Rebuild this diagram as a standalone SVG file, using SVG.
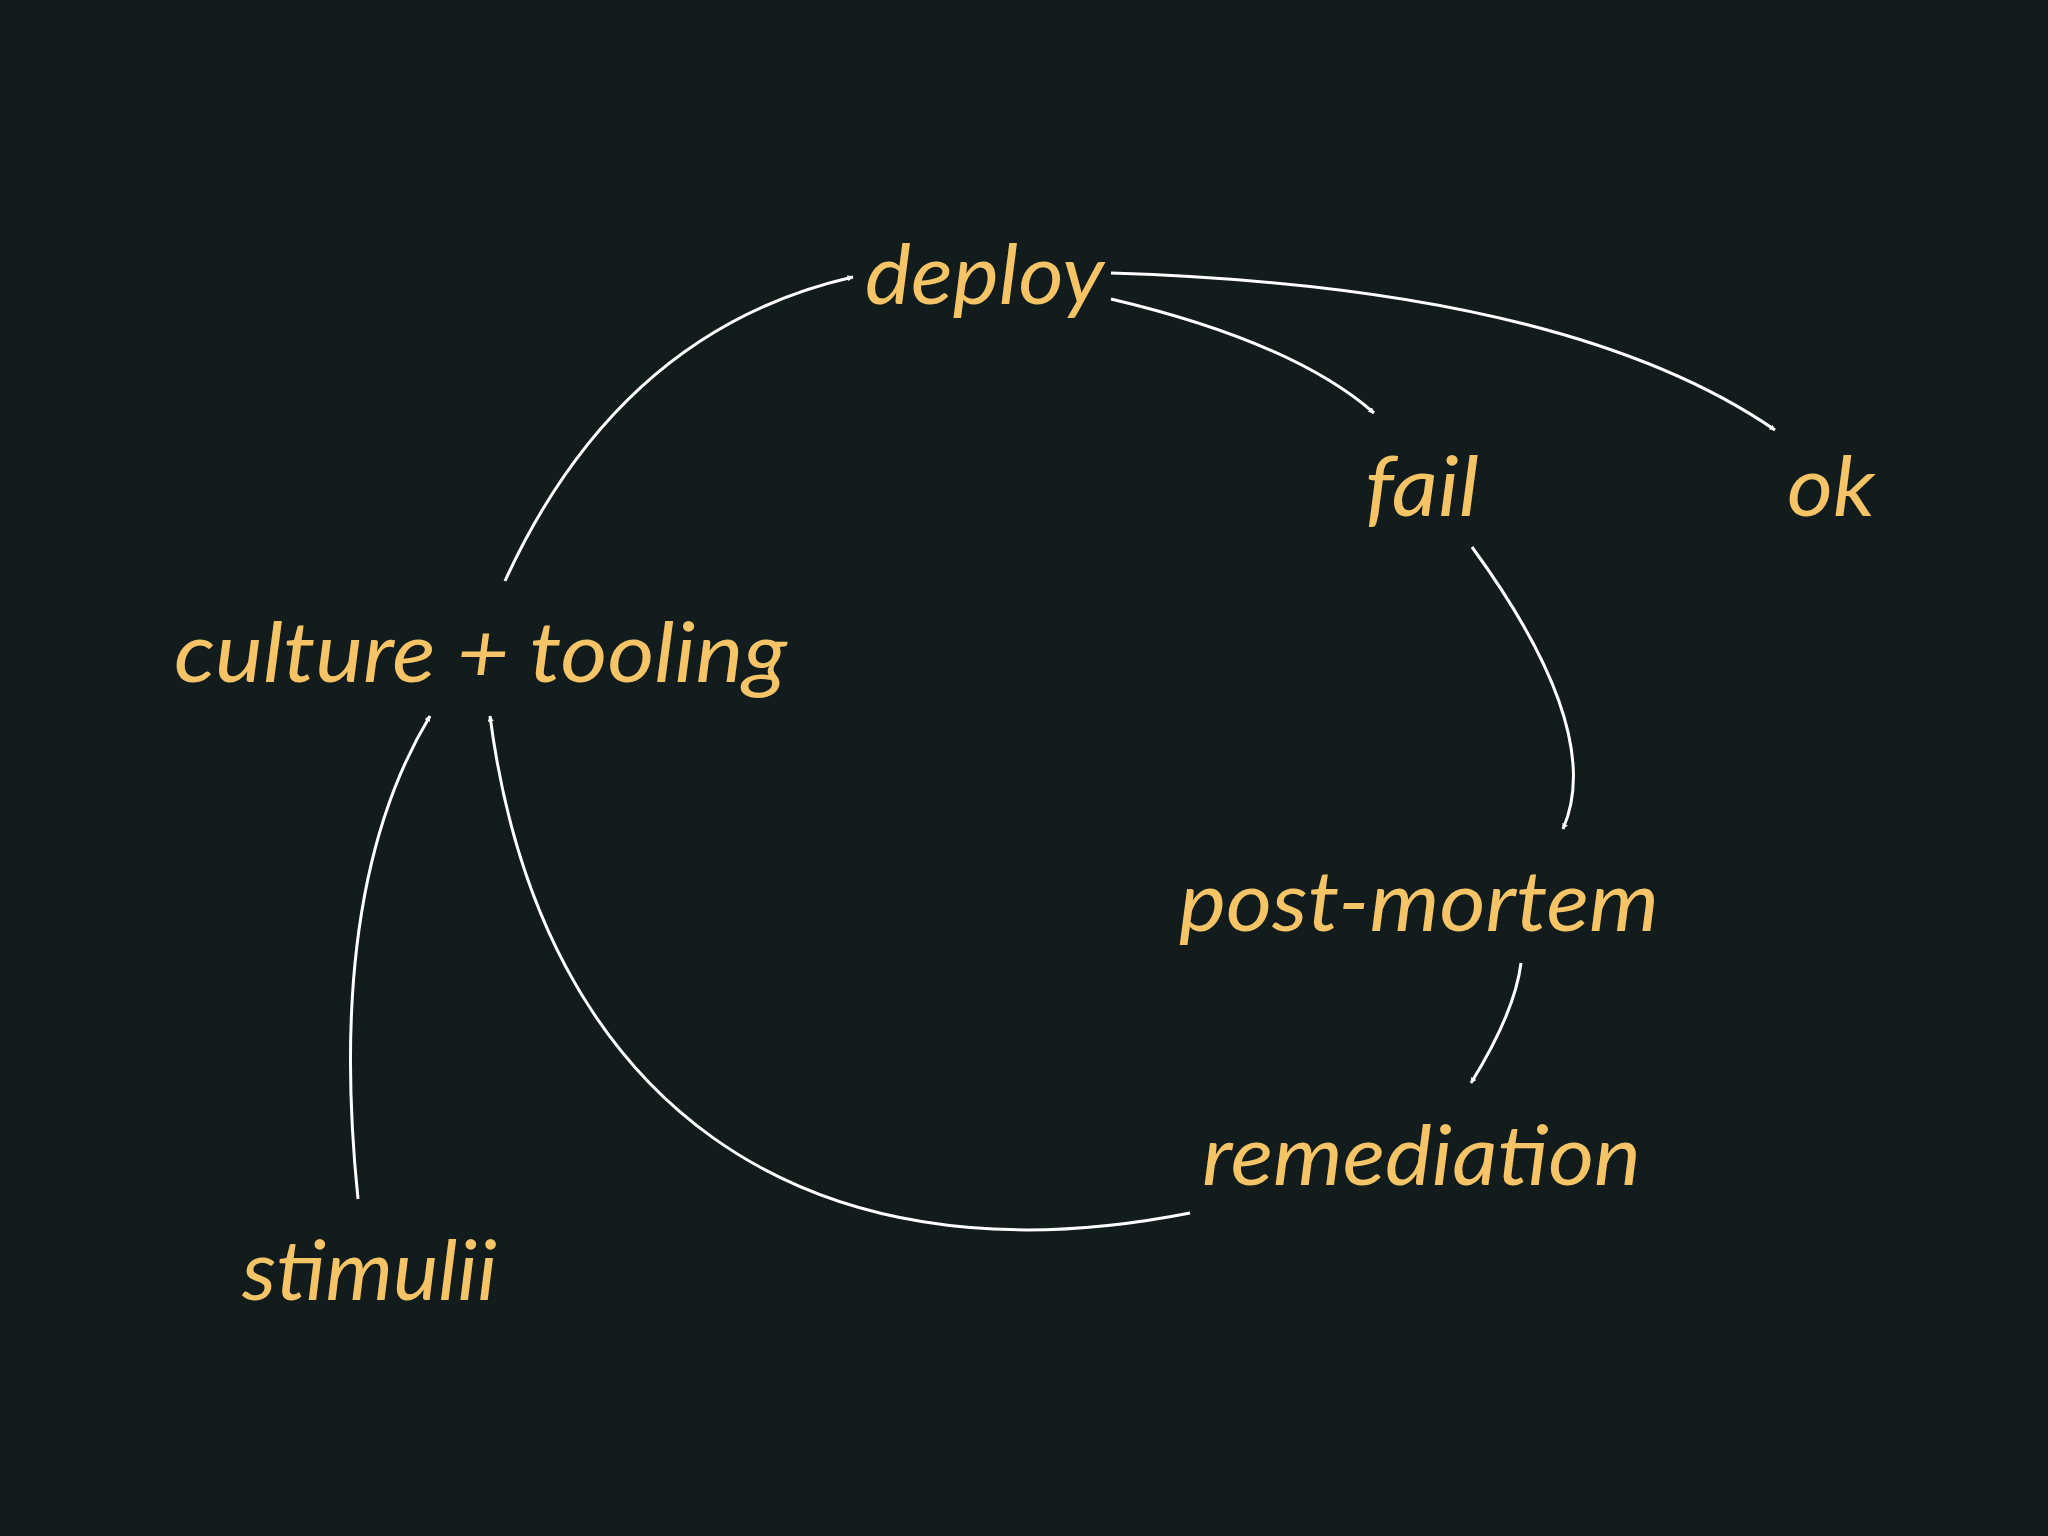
<svg xmlns="http://www.w3.org/2000/svg" width="2048" height="1536" viewBox="0 0 2048 1536">
<style>
.t{font-family:"Lato","Open Sans","DejaVu Sans",sans-serif;font-style:italic;font-size:84px;fill:#f4c466}
.c{fill:none;stroke:#ffffff;stroke-width:3}
</style>
<defs><marker id="a" viewBox="0 0 10 10" refX="9" refY="5" markerWidth="6" markerHeight="6" orient="auto" markerUnits="userSpaceOnUse"><path d="M0,0L10,5L0,10z" fill="#fff" transform="scale(1)"/></marker></defs>
<rect width="2048" height="1536" fill="#121c1d"/>
<g id="connectors">
<path class="c" marker-end="url(#a)" d="M505,581 Q620,330 853,277"/>
<path class="c" marker-end="url(#a)" d="M1111,299 Q1293,342 1374,413"/>
<path class="c" marker-end="url(#a)" d="M1111,273 Q1567,287 1775,430"/>
<path class="c" marker-end="url(#a)" d="M1472,547 Q1606,731 1563,829"/>
<path class="c" marker-end="url(#a)" d="M1521,963 Q1515,1012 1471,1083"/>
<path class="c" marker-end="url(#a)" d="M1190,1213 C800,1290 540,1100 490,716"/>
<path class="c" marker-end="url(#a)" d="M358,1199 Q326,888 430,716"/>
</g>
<g id="deploy"><text class="t" x="865" y="304" textLength="239" lengthAdjust="spacingAndGlyphs">deploy</text></g>
<g id="fail"><text class="t" x="1365" y="516" textLength="114" lengthAdjust="spacingAndGlyphs">fail</text></g>
<g id="ok"><text class="t" x="1787" y="516" textLength="88" lengthAdjust="spacingAndGlyphs">ok</text></g>
<g id="culture"><text class="t" x="174" y="682" textLength="613" lengthAdjust="spacingAndGlyphs">culture + tooling</text></g>
<g id="postmortem"><text class="t" x="1179" y="931" textLength="480" lengthAdjust="spacingAndGlyphs">post-mortem</text></g>
<g id="remediation"><text class="t" x="1202" y="1185" textLength="439" lengthAdjust="spacingAndGlyphs">remediation</text></g>
<g id="stimulii"><text class="t" x="242" y="1300" textLength="255" lengthAdjust="spacingAndGlyphs">stimulii</text></g>
</svg>
